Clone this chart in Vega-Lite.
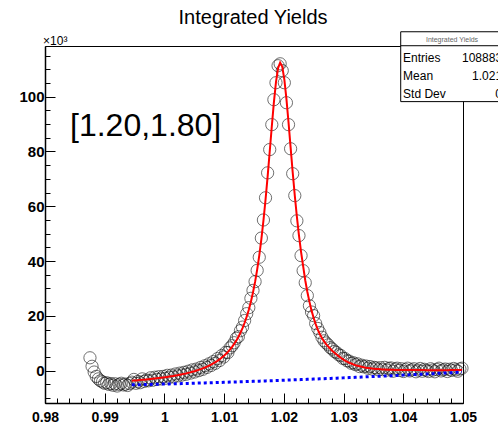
{
"$schema": "https://vega.github.io/schema/vega-lite/v6.json",
"width": 418,
"height": 357,
"autosize": "none",
"padding": {"left": 45, "top": 46, "right": 35, "bottom": 22},
"background": "white",
"config": {"view": {"stroke": "black", "strokeWidth": 1}, "font": "Liberation Sans"},
"datasets": {
"hist": [
{"x":0.98753,"y":4.7},{"x":0.98788,"y":1.6},{"x":0.98823,"y":-0.5},{"x":0.98858,"y":-2.1},{"x":0.98893,"y":-3.0},{"x":0.98928,"y":-3.7},{"x":0.98963,"y":-4.1},{"x":0.98998,"y":-4.6},{"x":0.99033,"y":-4.4},{"x":0.99068,"y":-5.0},{"x":0.99103,"y":-4.7},{"x":0.99138,"y":-5.3},{"x":0.99173,"y":-4.8},{"x":0.99208,"y":-5.6},{"x":0.99243,"y":-5.0},{"x":0.99278,"y":-4.6},{"x":0.99313,"y":-5.2},{"x":0.99348,"y":-4.9},{"x":0.99383,"y":-5.4},{"x":0.99418,"y":-4.7},
{"x":0.99453,"y":-4.2,"fit":-3.67,"bg":-5.17},{"x":0.99488,"y":-3.2,"fit":-3.61,"bg":-5.16},{"x":0.99523,"y":-4.6,"fit":-3.55,"bg":-5.14},{"x":0.99558,"y":-3.9,"fit":-3.48,"bg":-5.12},{"x":0.99593,"y":-4.4,"fit":-3.42,"bg":-5.10},{"x":0.99628,"y":-3.0,"fit":-3.35,"bg":-5.08},{"x":0.99663,"y":-3.9,"fit":-3.28,"bg":-5.07},{"x":0.99698,"y":-3.4,"fit":-3.20,"bg":-5.05},{"x":0.99733,"y":-3.7,"fit":-3.13,"bg":-5.03},{"x":0.99768,"y":-2.6,"fit":-3.05,"bg":-5.01},
{"x":0.99803,"y":-3.5,"fit":-2.96,"bg":-4.99},{"x":0.99838,"y":-2.4,"fit":-2.88,"bg":-4.97},{"x":0.99873,"y":-3.2,"fit":-2.79,"bg":-4.95},{"x":0.99908,"y":-2.2,"fit":-2.69,"bg":-4.93},{"x":0.99943,"y":-3.0,"fit":-2.60,"bg":-4.91},{"x":0.99978,"y":-2.1,"fit":-2.50,"bg":-4.89},{"x":1.00013,"y":-2.8,"fit":-2.39,"bg":-4.87},{"x":1.00048,"y":-1.7,"fit":-2.28,"bg":-4.85},{"x":1.00083,"y":-2.4,"fit":-2.16,"bg":-4.83},{"x":1.00118,"y":-1.6,"fit":-2.04,"bg":-4.81},
{"x":1.00153,"y":-2.3,"fit":-1.91,"bg":-4.79},{"x":1.00188,"y":-1.2,"fit":-1.78,"bg":-4.77},{"x":1.00223,"y":-1.9,"fit":-1.64,"bg":-4.75},{"x":1.00258,"y":-0.9,"fit":-1.49,"bg":-4.73},{"x":1.00293,"y":-1.6,"fit":-1.34,"bg":-4.71},{"x":1.00328,"y":-0.6,"fit":-1.17,"bg":-4.69},{"x":1.00363,"y":-1.3,"fit":-1.00,"bg":-4.66},{"x":1.00398,"y":-0.2,"fit":-0.81,"bg":-4.64},{"x":1.00433,"y":-0.9,"fit":-0.62,"bg":-4.62},{"x":1.00468,"y":0.3,"fit":-0.41,"bg":-4.60},
{"x":1.00503,"y":-0.5,"fit":-0.19,"bg":-4.58},{"x":1.00538,"y":0.6,"fit":0.05,"bg":-4.55},{"x":1.00573,"y":0.0,"fit":0.30,"bg":-4.53},{"x":1.00608,"y":1.2,"fit":0.56,"bg":-4.51},{"x":1.00643,"y":0.5,"fit":0.85,"bg":-4.49},{"x":1.00678,"y":1.8,"fit":1.16,"bg":-4.46},{"x":1.00713,"y":1.2,"fit":1.49,"bg":-4.44},{"x":1.00748,"y":2.5,"fit":1.85,"bg":-4.42},{"x":1.00783,"y":1.9,"fit":2.23,"bg":-4.39},{"x":1.00818,"y":3.3,"fit":2.65,"bg":-4.37},
{"x":1.00853,"y":2.7,"fit":3.11,"bg":-4.35},{"x":1.00888,"y":4.4,"fit":3.60,"bg":-4.32},{"x":1.00923,"y":3.7,"fit":4.14,"bg":-4.30},{"x":1.00958,"y":5.5,"fit":4.72,"bg":-4.28},{"x":1.00993,"y":5.0,"fit":5.37,"bg":-4.25},{"x":1.01028,"y":6.7,"fit":6.08,"bg":-4.23},{"x":1.01063,"y":6.6,"fit":6.86,"bg":-4.20},{"x":1.01098,"y":8.3,"fit":7.73,"bg":-4.18},{"x":1.01133,"y":9.1,"fit":8.69,"bg":-4.15},{"x":1.01168,"y":10.2,"fit":9.76,"bg":-4.13},
{"x":1.01203,"y":11.8,"fit":10.96,"bg":-4.10},{"x":1.01238,"y":12.4,"fit":12.31,"bg":-4.08},{"x":1.01273,"y":14.6,"fit":13.83,"bg":-4.05},{"x":1.01308,"y":15.9,"fit":15.54,"bg":-4.03},{"x":1.01343,"y":18.3,"fit":17.49,"bg":-4.00},{"x":1.01378,"y":20.8,"fit":19.71,"bg":-3.98},{"x":1.01413,"y":23.0,"fit":22.25,"bg":-3.95},{"x":1.01448,"y":26.4,"fit":25.17,"bg":-3.93},{"x":1.01483,"y":29.3,"fit":28.52,"bg":-3.90},{"x":1.01518,"y":32.5,"fit":32.40,"bg":-3.87},
{"x":1.01553,"y":36.6,"fit":36.86,"bg":-3.85},{"x":1.01588,"y":41.4,"fit":42.01,"bg":-3.82},{"x":1.01623,"y":48.4,"fit":47.96,"bg":-3.79},{"x":1.01658,"y":55.0,"fit":54.73,"bg":-3.77},{"x":1.01693,"y":63.1,"fit":62.38,"bg":-3.74},{"x":1.01728,"y":72.2,"fit":70.83,"bg":-3.71},{"x":1.01763,"y":80.7,"fit":79.89,"bg":-3.68},{"x":1.01798,"y":89.8,"fit":89.13,"bg":-3.66},{"x":1.01833,"y":98.9,"fit":97.91,"bg":-3.63},{"x":1.01868,"y":105.1,"fit":105.34,"bg":-3.60},
{"x":1.01903,"y":111.3,"fit":110.45,"bg":-3.57},{"x":1.01938,"y":112.0,"fit":112.45,"bg":-3.55},{"x":1.01973,"y":109.5,"fit":110.98,"bg":-3.52},{"x":1.02008,"y":105.1,"fit":106.34,"bg":-3.49},{"x":1.02043,"y":97.8,"fit":99.24,"bg":-3.46},{"x":1.02078,"y":89.8,"fit":90.66,"bg":-3.43},{"x":1.02113,"y":81.0,"fit":81.49,"bg":-3.40},{"x":1.02148,"y":71.9,"fit":72.43,"bg":-3.37},{"x":1.02183,"y":63.9,"fit":63.94,"bg":-3.34},{"x":1.02218,"y":54.7,"fit":56.22,"bg":-3.32},
{"x":1.02253,"y":49.3,"fit":49.37,"bg":-3.29},{"x":1.02288,"y":42.0,"fit":43.38,"bg":-3.26},{"x":1.02323,"y":36.5,"fit":38.17,"bg":-3.23},{"x":1.02358,"y":32.1,"fit":33.0,"bg":-3.20},{"x":1.02393,"y":27.4,"fit":28.8,"bg":-3.17},{"x":1.02428,"y":23.7,"fit":25.2,"bg":-3.14},{"x":1.02463,"y":21.4,"fit":22.0,"bg":-3.11},{"x":1.02498,"y":20.1,"fit":19.3,"bg":-3.08},{"x":1.02533,"y":17.2,"fit":17.0,"bg":-3.05},{"x":1.02568,"y":15.4,"fit":15.0,"bg":-3.01},
{"x":1.02603,"y":13.9,"fit":13.3,"bg":-2.98},{"x":1.02638,"y":12.2,"fit":11.9,"bg":-2.95},{"x":1.02673,"y":10.9,"fit":10.7,"bg":-2.92},{"x":1.02708,"y":10.1,"fit":9.7,"bg":-2.89},{"x":1.02743,"y":9.4,"fit":8.8,"bg":-2.86},{"x":1.02778,"y":8.4,"fit":8.0,"bg":-2.83},{"x":1.02813,"y":7.9,"fit":7.2,"bg":-2.79},{"x":1.02848,"y":7.0,"fit":6.5,"bg":-2.76},{"x":1.02883,"y":6.6,"fit":5.9,"bg":-2.73},{"x":1.02918,"y":5.8,"fit":5.3,"bg":-2.70},
{"x":1.02953,"y":5.5,"fit":4.7,"bg":-2.67},{"x":1.02988,"y":4.5,"fit":4.2,"bg":-2.63},{"x":1.03023,"y":4.4,"fit":3.7,"bg":-2.60},{"x":1.03058,"y":3.6,"fit":3.3,"bg":-2.57},{"x":1.03093,"y":3.5,"fit":2.9,"bg":-2.53},{"x":1.03128,"y":2.7,"fit":2.6,"bg":-2.50},{"x":1.03163,"y":2.9,"fit":2.3,"bg":-2.47},{"x":1.03198,"y":2.2,"fit":2.0,"bg":-2.43},{"x":1.03233,"y":2.5,"fit":1.8,"bg":-2.40},{"x":1.03268,"y":1.5,"fit":1.6,"bg":-2.37},
{"x":1.03303,"y":2.0,"fit":1.4,"bg":-2.33},{"x":1.03338,"y":1.4,"fit":1.25,"bg":-2.30},{"x":1.03373,"y":1.7,"fit":1.1,"bg":-2.26},{"x":1.03408,"y":0.9,"fit":1.0,"bg":-2.23},{"x":1.03443,"y":1.5,"fit":0.9,"bg":-2.19},{"x":1.03478,"y":0.6,"fit":0.8,"bg":-2.16},{"x":1.03513,"y":1.2,"fit":0.72,"bg":-2.12},{"x":1.03548,"y":1.0,"fit":0.65,"bg":-2.09},{"x":1.03583,"y":0.3,"fit":0.58,"bg":-2.05},{"x":1.03618,"y":1.1,"fit":0.52,"bg":-2.02},
{"x":1.03653,"y":0.4,"fit":0.47,"bg":-1.98},{"x":1.03688,"y":1.2,"fit":0.42,"bg":-1.95},{"x":1.03723,"y":0.2,"fit":0.38,"bg":-1.91},{"x":1.03758,"y":0.8,"fit":0.35,"bg":-1.87},{"x":1.03793,"y":1.0,"fit":0.32,"bg":-1.84},{"x":1.03828,"y":-0.2,"fit":0.30,"bg":-1.80},{"x":1.03863,"y":0.6,"fit":0.28,"bg":-1.76},{"x":1.03898,"y":0.9,"fit":0.27,"bg":-1.73},{"x":1.03933,"y":0.1,"fit":0.26,"bg":-1.69},{"x":1.03968,"y":0.7,"fit":0.25,"bg":-1.65},
{"x":1.04003,"y":-0.3,"fit":0.24,"bg":-1.62},{"x":1.04038,"y":0.4,"fit":0.23,"bg":-1.58},{"x":1.04073,"y":0.9,"fit":0.23,"bg":-1.54},{"x":1.04108,"y":-0.1,"fit":0.22,"bg":-1.50},{"x":1.04143,"y":0.3,"fit":0.22,"bg":-1.46},{"x":1.04178,"y":0.7,"fit":0.21,"bg":-1.43},{"x":1.04213,"y":-0.4,"fit":0.21,"bg":-1.39},{"x":1.04248,"y":0.2,"fit":0.20,"bg":-1.35},{"x":1.04283,"y":0.8,"fit":0.20,"bg":-1.31},{"x":1.04318,"y":-0.2,"fit":0.20,"bg":-1.27},
{"x":1.04353,"y":0.5,"fit":0.20,"bg":-1.23},{"x":1.04388,"y":0.1,"fit":0.19,"bg":-1.20},{"x":1.04423,"y":-0.3,"fit":0.19,"bg":-1.16},{"x":1.04458,"y":0.7,"fit":0.19,"bg":-1.12},{"x":1.04493,"y":0.2,"fit":0.19,"bg":-1.08},{"x":1.04528,"y":-0.4,"fit":0.19,"bg":-1.04},{"x":1.04563,"y":0.4,"fit":0.19,"bg":-1.00},{"x":1.04598,"y":0.9,"fit":0.19,"bg":-0.96},{"x":1.04633,"y":-0.1,"fit":0.19,"bg":-0.92},{"x":1.04668,"y":0.3,"fit":0.19,"bg":-0.88},
{"x":1.04703,"y":0.6,"fit":0.19,"bg":-0.84},{"x":1.04738,"y":-0.3,"fit":0.19,"bg":-0.80},{"x":1.04773,"y":0.5,"fit":0.20,"bg":-0.76},{"x":1.04808,"y":0.1,"fit":0.20,"bg":-0.72},{"x":1.04843,"y":0.8,"fit":0.20,"bg":-0.68},{"x":1.04878,"y":0.3,"fit":0.20,"bg":-0.64},{"x":1.04913,"y":-0.2,"fit":0.20,"bg":-0.60},{"x":1.04948,"y":0.6,"fit":0.20,"bg":-0.56},{"x":1.04983,"y":0.9,"fit":0.20,"bg":-0.52}
],
"title": [{"x": 1.01484, "y": 126.5, "text": "Integrated Yields"}],
"label": [{"x": 0.98419, "y": 89.3, "text": "[1.20,1.80]"}],
"expo": [{"x": 0.97967, "y": 119.0, "text": "×10³"}],
"box": [{"x": 1.03957, "x2": 1.0620, "y": 98.2, "y2": 123.7}],
"boxsep": [{"x": 1.03957, "x2": 1.0620, "y": 118.6}],
"boxtitle": [{"x": 1.04816, "y": 120.6, "text": "Integrated Yields"}],
"statnames": [{"x": 1.03996, "y": 114.1, "text": "Entries"}, {"x": 1.03996, "y": 107.6, "text": "Mean"}, {"x": 1.03996, "y": 101.0, "text": "Std Dev"}],
"statvals": [{"x": 1.05654, "y": 114.1, "text": "108883"}, {"x": 1.05654, "y": 107.6, "text": "1.021"}, {"x": 1.05654, "y": 101.0, "text": "0"}]
},
"encoding": {
"x": {"field": "x", "type": "quantitative",
 "scale": {"domain": [0.98, 1.05], "nice": false, "zero": false},
 "axis": {"title": null, "grid": false,
  "values": [0.98,0.982,0.984,0.986,0.988,0.99,0.992,0.994,0.996,0.998,1,1.002,1.004,1.006,1.008,1.01,1.012,1.014,1.016,1.018,1.02,1.022,1.024,1.026,1.028,1.03,1.032,1.034,1.036,1.038,1.04,1.042,1.044,1.046,1.048,1.05],
  "tickSize": {"condition": {"test": "abs(datum.value*100 - round(datum.value*100)) < 0.000001", "value": -10}, "value": -5},
  "labelExpr": "abs(datum.value*100 - round(datum.value*100)) < 0.000001 ? format(datum.value, '~g') : ''",
  "labelFontSize": 14, "labelFontWeight": "bold", "labelColor": "black", "labelFont": "Liberation Sans",
  "labelPadding": 17, "labelFlush": false, "labelOverlap": false, "labelBaseline": "top",
  "domainColor": "black", "domainWidth": 1.5, "tickColor": "black", "tickWidth": 1}},
"y": {"field": "y", "type": "quantitative",
 "scale": {"domain": [-11.8, 118.5], "nice": false, "zero": false},
 "axis": {"title": null, "grid": false,
  "values": [-10,-5,0,5,10,15,20,25,30,35,40,45,50,55,60,65,70,75,80,85,90,95,100,105,110,115],
  "tickSize": {"condition": {"test": "datum.value % 20 === 0", "value": -10}, "value": -5},
  "labelExpr": "datum.value % 20 === 0 && datum.value >= 0 ? format(datum.value, 'd') : ''",
  "labelFontSize": 15, "labelFontWeight": "bold", "labelColor": "black", "labelFont": "Liberation Sans",
  "labelPadding": 11, "labelOverlap": false, "labelFlush": false,
  "domainColor": "black", "domainWidth": 1.5, "tickColor": "black", "tickWidth": 1}}
},
"layer": [
{"data": {"name": "hist"},
 "mark": {"type": "point", "shape": "circle", "filled": false, "stroke": "#111111", "strokeWidth": 1, "strokeOpacity": 0.85, "size": 150}},
{"data": {"name": "hist"}, "transform": [{"filter": "isValid(datum.fit)"}],
 "mark": {"type": "line", "color": "#ff0000", "strokeWidth": 2},
 "encoding": {"y": {"field": "fit", "type": "quantitative"}}},
{"data": {"name": "hist"}, "transform": [{"filter": "isValid(datum.bg)"}],
 "mark": {"type": "line", "color": "#0000ff", "strokeWidth": 3, "strokeDash": [3, 3]},
 "encoding": {"y": {"field": "bg", "type": "quantitative"}}},
{"data": {"values": [{}]},
 "mark": {"type": "rule", "color": "black", "strokeWidth": 3, "strokeDash": [8, 5]},
 "encoding": {"x": null, "y": {"datum": 0, "type": "quantitative"}}},
{"data": {"name": "title"},
 "mark": {"type": "text", "align": "center", "baseline": "alphabetic", "fontSize": 20, "font": "Liberation Sans", "color": "black"},
 "encoding": {"text": {"field": "text"}}},
{"data": {"name": "label"},
 "mark": {"type": "text", "align": "left", "baseline": "middle", "fontSize": 32, "font": "Liberation Sans", "color": "black"},
 "encoding": {"text": {"field": "text"}}},
{"data": {"name": "expo"},
 "mark": {"type": "text", "align": "left", "baseline": "alphabetic", "fontSize": 12, "font": "Liberation Sans", "color": "black"},
 "encoding": {"text": {"field": "text"}}},
{"data": {"name": "box"},
 "mark": {"type": "rect", "fill": "white", "stroke": "black", "strokeWidth": 1},
 "encoding": {"x2": {"field": "x2"}, "y2": {"field": "y2"}}},
{"data": {"name": "boxsep"},
 "mark": {"type": "rule", "color": "black", "strokeWidth": 1},
 "encoding": {"x2": {"field": "x2"}}},
{"data": {"name": "boxtitle"},
 "mark": {"type": "text", "align": "center", "baseline": "middle", "fontSize": 7, "font": "Liberation Sans", "color": "#666666"},
 "encoding": {"text": {"field": "text"}}},
{"data": {"name": "statnames"},
 "mark": {"type": "text", "align": "left", "baseline": "middle", "fontSize": 12, "font": "Liberation Sans", "color": "black"},
 "encoding": {"text": {"field": "text"}}},
{"data": {"name": "statvals"},
 "mark": {"type": "text", "align": "right", "baseline": "middle", "fontSize": 12, "font": "Liberation Sans", "color": "black"},
 "encoding": {"text": {"field": "text"}}}
]
}
